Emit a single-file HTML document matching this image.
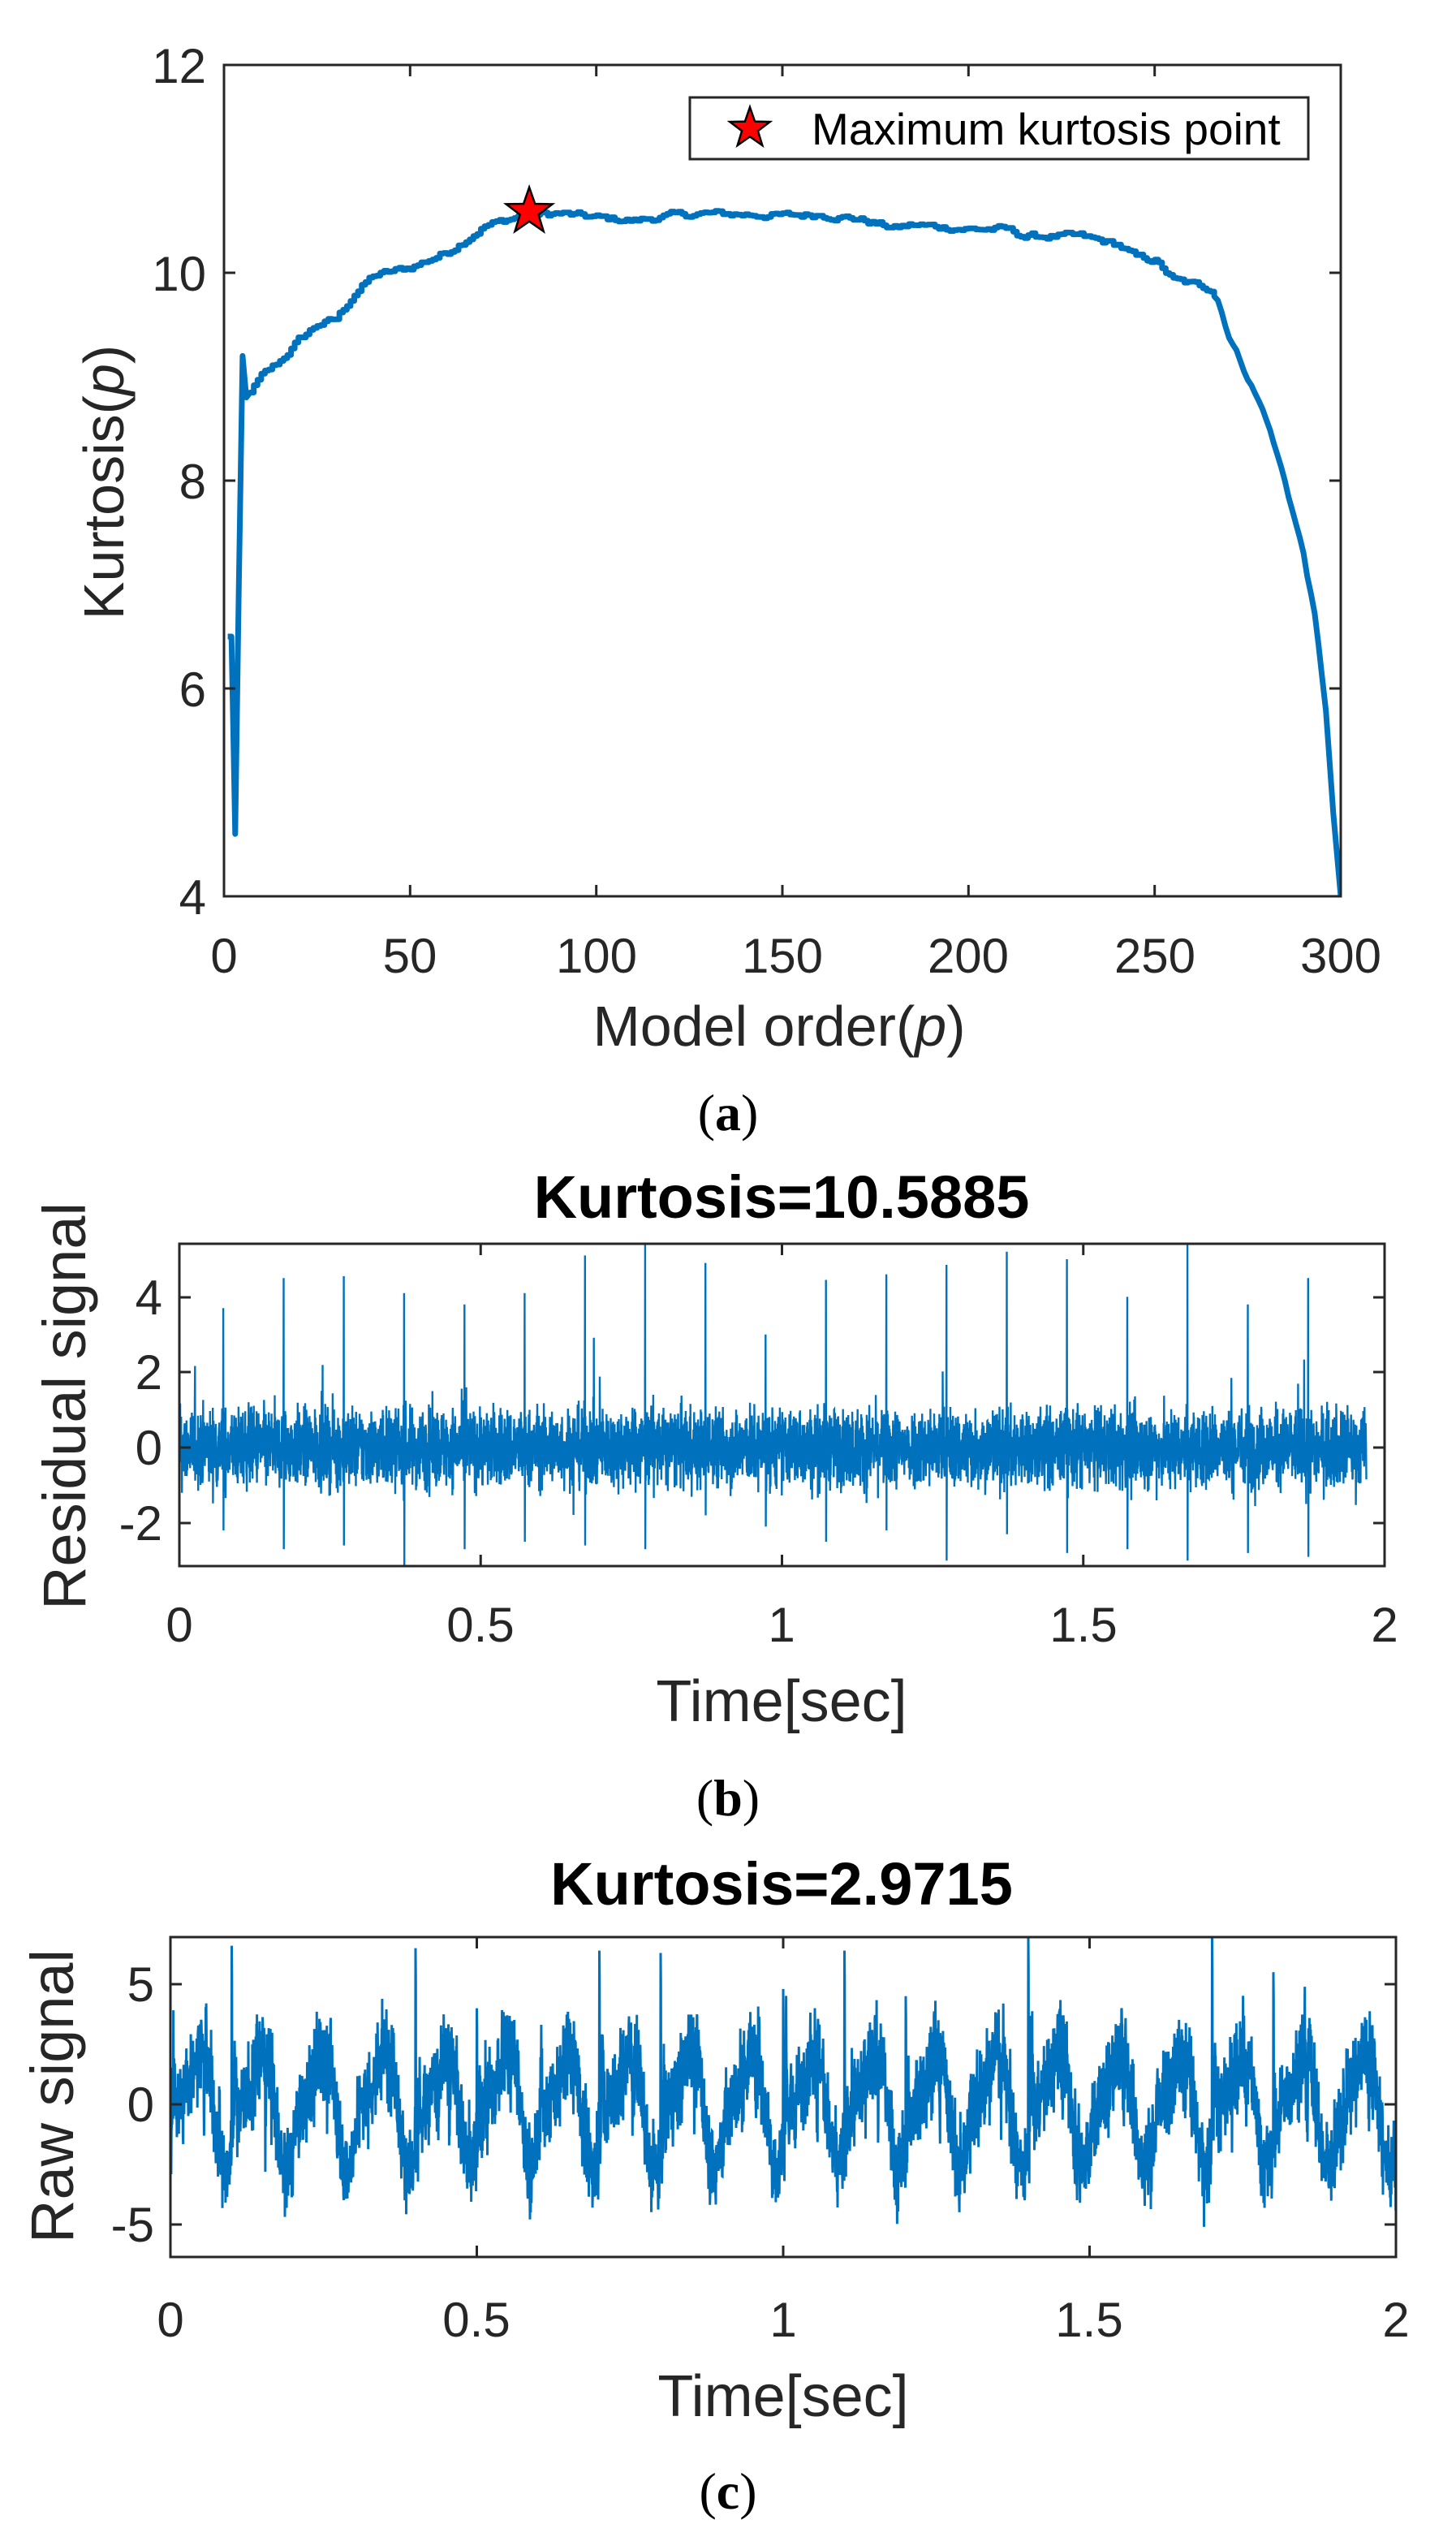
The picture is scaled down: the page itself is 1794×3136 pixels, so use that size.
<!DOCTYPE html>
<html><head><meta charset="utf-8"><style>
html,body{margin:0;padding:0;background:#fff;}
svg{display:block;}
text{font-family:"Liberation Sans",Arial,sans-serif;fill:#262626;}
.cap{font-family:"Liberation Serif",serif;fill:#000;}
</style></head><body>
<svg id="s" width="1794" height="3136" viewBox="0 0 1794 3136" xmlns="http://www.w3.org/2000/svg">
<defs>
<clipPath id="ca"><rect x="276" y="80" width="1376" height="1024"/></clipPath>
<clipPath id="cb"><rect x="221" y="1532" width="1485" height="397"/></clipPath>
<clipPath id="cc"><rect x="210" y="2386" width="1510" height="394"/></clipPath>
</defs>
<rect width="1794" height="3136" fill="#fff"/>
<path id="pa" d="" fill="none" stroke="#0072BD" stroke-width="7" stroke-linejoin="round" clip-path="url(#ca)"/>
<g stroke="#262626" stroke-width="3" fill="none">
<rect x="276" y="80" width="1376" height="1024"/>
<path d="M505.3,1104v-14M734.7,1104v-14M964,1104v-14M1193.3,1104v-14M1422.7,1104v-14M505.3,80v14M734.7,80v14M964,80v14M1193.3,80v14M1422.7,80v14
M276,336h14M276,592h14M276,848h14M1652,336h-14M1652,592h-14M1652,848h-14"/>
</g>
<g font-size="60" text-anchor="end">
<text x="254" y="102">12</text><text x="254" y="358">10</text><text x="254" y="614">8</text><text x="254" y="870">6</text><text x="254" y="1126">4</text>
</g>
<g font-size="60" text-anchor="middle">
<text x="276" y="1198">0</text><text x="505" y="1198">50</text><text x="735" y="1198">100</text><text x="964" y="1198">150</text><text x="1193" y="1198">200</text><text x="1423" y="1198">250</text><text x="1652" y="1198">300</text>
</g>
<text x="960" y="1288" font-size="70" text-anchor="middle">Model order(<tspan font-style="italic">p</tspan>)</text>
<text transform="translate(152,594) rotate(-90)" font-size="70" text-anchor="middle">Kurtosis(<tspan font-style="italic">p</tspan>)</text>
<rect x="850" y="120" width="762" height="76" fill="#fff" stroke="#262626" stroke-width="3"/>
<path id="star2" d="" fill="#ff0000" stroke="#000" stroke-width="2.5"/>
<text x="1000" y="178" font-size="55" style="fill:#000">Maximum kurtosis point</text>
<path id="star1" d="" fill="#ff0000" stroke="#000" stroke-width="2.5"/>
<text class="cap" x="897" y="1392" font-size="64" text-anchor="middle">(<tspan font-weight="bold">a</tspan>)</text>

<text x="963" y="1500" font-size="74" font-weight="bold" text-anchor="middle" style="fill:#000">Kurtosis=10.5885</text>
<path id="pb" d="" fill="none" stroke="#0072BD" stroke-width="2.4" clip-path="url(#cb)"/>
<g stroke="#262626" stroke-width="3" fill="none">
<rect x="221" y="1532" width="1485" height="397"/>
<path d="M592.25,1929v-14M963.5,1929v-14M1334.75,1929v-14M592.25,1532v14M963.5,1532v14M1334.75,1532v14
M221,1598h14M221,1690h14M221,1783h14M221,1876h14M1706,1598h-14M1706,1690h-14M1706,1783h-14M1706,1876h-14"/>
</g>
<g font-size="60" text-anchor="end">
<text x="200" y="1619">4</text><text x="200" y="1711">2</text><text x="200" y="1804">0</text><text x="200" y="1897">-2</text>
</g>
<g font-size="60" text-anchor="middle">
<text x="221" y="2022">0</text><text x="592" y="2022">0.5</text><text x="963" y="2022">1</text><text x="1335" y="2022">1.5</text><text x="1706" y="2022">2</text>
</g>
<text x="963" y="2120" font-size="72" text-anchor="middle">Time[sec]</text>
<text transform="translate(105,1732) rotate(-90)" font-size="74" text-anchor="middle">Residual signal</text>
<text class="cap" x="897" y="2236" font-size="64" text-anchor="middle">(<tspan font-weight="bold">b</tspan>)</text>

<text x="963" y="2346" font-size="74" font-weight="bold" text-anchor="middle" style="fill:#000">Kurtosis=2.9715</text>
<path id="pc" d="" fill="none" stroke="#0072BD" stroke-width="3" clip-path="url(#cc)"/>
<g stroke="#262626" stroke-width="3" fill="none">
<rect x="210" y="2386" width="1510" height="394"/>
<path d="M587.5,2780v-14M965,2780v-14M1342.5,2780v-14M587.5,2386v14M965,2386v14M1342.5,2386v14
M210,2444h14M210,2592h14M210,2740h14M1720,2444h-14M1720,2592h-14M1720,2740h-14"/>
</g>
<g font-size="60" text-anchor="end">
<text x="190" y="2465">5</text><text x="190" y="2613">0</text><text x="190" y="2761">-5</text>
</g>
<g font-size="60" text-anchor="middle">
<text x="210" y="2878">0</text><text x="587" y="2878">0.5</text><text x="965" y="2878">1</text><text x="1342" y="2878">1.5</text><text x="1720" y="2878">2</text>
</g>
<text x="965" y="2976" font-size="72" text-anchor="middle">Time[sec]</text>
<text transform="translate(90,2582) rotate(-90)" font-size="74" text-anchor="middle">Raw signal</text>
<text class="cap" x="897" y="3090" font-size="64" text-anchor="middle">(<tspan font-weight="bold">c</tspan>)</text>
</svg>
<script>
(function(){
var seed=12345;function r(){seed=(seed*1103515245+12345)%2147483648;return seed/2147483648;}
function g(){return (r()+r()+r()+r()-2)*1.7;}
function star(cx,cy,R){var s="";for(var i=0;i<10;i++){var a=-Math.PI/2+i*Math.PI/5;var rr=i%2?R*0.4:R;s+=(i?"L":"M")+(cx+rr*Math.cos(a)).toFixed(1)+","+(cy+rr*Math.sin(a)).toFixed(1);}return s+"Z";}
var kp=[[1,6.5],[2,6.5],[3,4.6],[4,7.0],[5,9.2],[6,8.8],[10,9.0],[15,9.15],[20,9.35],[25,9.5],[30,9.55],[35,9.8],[40,9.97],[50,10.05],[60,10.2],[70,10.45],[80,10.55],[90,10.57],[100,10.53],[110,10.5],[120,10.55],[130,10.57],[150,10.55],[160,10.56],[170,10.52],[180,10.43],[185,10.46],[200,10.42],[210,10.42],[215,10.35],[230,10.35],[240,10.27],[245,10.15],[250,10.12],[255,9.93],[265,9.85],[267,9.75],[270,9.4],[275,9.0],[280,8.6],[285,8.0],[290,7.3],[293,6.7],[296,5.8],[298,4.8],[300,4.0]];
function interp(p){for(var i=0;i<kp.length-1;i++){if(p>=kp[i][0]&&p<=kp[i+1][0]){var f=(p-kp[i][0])/(kp[i+1][0]-kp[i][0]);return kp[i][1]+f*(kp[i+1][1]-kp[i][1]);}}return kp[kp.length-1][1];}
var d="";var off=0;
for(var p=1;p<=300;p+=1){off=off*0.6+(r()-0.5)*0.05;var v=interp(p)+(p>6&&p<298?off:0);var x=(276+p*1376/300).toFixed(1),y=(80+(12-v)*128).toFixed(1);
if(p==1)d+="M"+x+","+y;else if(p<8||p>266)d+="L"+x+","+y;else d+="H"+x+"V"+y;}
document.getElementById("pa").setAttribute("d",d);
document.getElementById("star1").setAttribute("d",star(276+82*1376/300,80+(12-10.5885)*128,30));
document.getElementById("star2").setAttribute("d",star(924,158,26));
// panel b
var N=6000,T=1.97;d="";var hs=[3.7,4.5,4.55,4.1,3.8,4.1,5.1,5.4,4.9,3.0,4.45,4.6,4.85,5.2,5.0,4.0,5.5,3.8,4.5];var ng=[-2.2,-2.7,-2.6,-3.2,-2.7,-2.5,-2.6,-2.7,-1.8,-2.1,-2.5,-2.2,-3.0,-2.3,-2.8,-2.7,-3.0,-2.8,-2.9];
var sp={};for(var k=0;k<hs.length;k++){var idx=Math.round((0.073+k*0.1)/T*N);sp[idx]=hs[k];sp[idx+1]=ng[k];}
for(var i=0;i<N;i++){var t=i*T/N;var v=g()*0.52;if(r()<0.012)v*=2.0;
if(sp[i]!==undefined)v=sp[i];
var x=221+t*1485/2,y=1783-v*46.4;d+=(i?"L":"M")+x.toFixed(1)+","+y.toFixed(1);}
document.getElementById("pb").setAttribute("d",d);
// panel c
N=5000;d="";var amp=[6.6,6.5,3.5,4.2,3.7,4.2,6.3,6.8,4.5,3.8,6.5,3.5,4.0,3.9,7.0,3.5,3.0,6.9,3.7,3.8];
var big=[[0.1,6.6],[0.4,6.5],[0.7,6.4],[0.8,6.3],[1.1,6.4],[1.4,7.0],[1.7,7.0],[1.8,5.5],[0.5,4.0],[1.0,4.8],[1.2,4.5]];
var bs={};for(var j=0;j<big.length;j++){var ii=Math.round(big[j][0]/2*N);bs[ii]=big[j][1];bs[ii+1]=big[j][1]*0.8;}
for(var i=0;i<N;i++){var t=i*2/N;var k=Math.floor(t/0.1);var ph=t/0.1-k;
var v=2.2*Math.sin(2*Math.PI*10*t-1.2)+0.7*Math.sin(2*Math.PI*20*t+0.4)+g()*0.95;
var pk=Math.exp(-Math.pow((ph-0.05)/0.025,2));
v+=(amp[k%20]-3)*pk*(0.6+0.4*r());
var nk=Math.exp(-Math.pow((ph-0.55)/0.02,2));v-=nk*(1.5+2*r())*(r()<0.5?1:0.3);
if(bs[i]!==undefined)v=bs[i];
var x=210+t*1510/2,y=2592-v*29.6;d+=(i?"L":"M")+x.toFixed(1)+","+y.toFixed(1);}
document.getElementById("pc").setAttribute("d",d);
})();
</script>
</body></html>
